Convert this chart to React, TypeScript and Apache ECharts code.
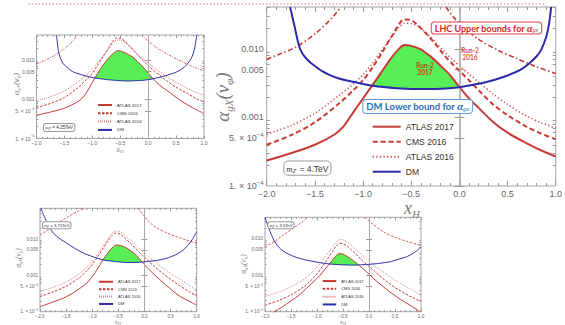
import React, { useEffect, useRef } from 'react';
import * as echarts from 'echarts';

// ---------------- data ----------------
const xTickValues = [-2, -1.5, -1, -0.5, 0, 0.5, 1];
const yTickValues = [1e-4, 5e-4, 1e-3, 5e-3, 1e-2];
const yTickLabels = ['1. × 10^−4', '5. × 10^−4', '0.001', '0.005', '0.010'];
const yMinorValues = [2e-4, 3e-4, 4e-4, 6e-4, 7e-4, 8e-4, 9e-4, 2e-3, 3e-3, 4e-3, 6e-3, 7e-3, 8e-3, 9e-3, 2e-2, 3e-2, 4e-2, 5e-2, 6e-2];
const legendNames = ['ATLAS 2017', 'CMS 2016', 'ATLAS 2016', 'DM'];
const massLabels = { m: '4.', tl: '4.25', bl: '3.75', br: '3.5' };
const yMaxValues = { m: 0.041, tl: 0.0427, bl: 0.07, br: 0.0389 };

// main panel, m_Z' = 4 TeV
const atlas17_m = [[-2.0, 2.35e-4], [-1.75, 3.0e-4], [-1.5, 4.0e-4], [-1.3, 5.6e-4], [-1.2, 7.5e-4], [-1.1, 1.2e-3], [-1.0, 1.9e-3], [-0.9, 3.0e-3], [-0.8, 4.8e-3], [-0.7, 7.6e-3], [-0.62, 0.0103], [-0.57, 0.0114], [-0.5, 0.0111], [-0.4, 0.0099], [-0.3, 0.0078], [-0.2, 0.0058], [-0.1, 0.0042], [0.0, 0.0028], [0.1, 0.0019], [0.2, 0.00138], [0.35, 8.6e-4], [0.5, 6.0e-4], [0.7, 4.2e-4], [0.85, 3.3e-4], [1.0, 2.7e-4]];
const cms16_m = [[-2.0, 4.0e-4], [-1.75, 5.5e-4], [-1.5, 8.5e-4], [-1.25, 1.6e-3], [-1.1, 2.5e-3], [-1.0, 3.5e-3], [-0.9, 5.4e-3], [-0.8, 9.0e-3], [-0.7, 0.0155], [-0.63, 0.0225], [-0.58, 0.027], [-0.52, 0.0268], [-0.45, 0.0235], [-0.34, 0.0165], [-0.25, 0.0118], [-0.16, 0.0082], [-0.08, 0.0062], [0.0, 0.0048], [0.1, 0.0035], [0.2, 0.0025], [0.35, 0.00155], [0.5, 1.08e-3], [0.7, 7.3e-4], [0.85, 5.8e-4], [1.0, 4.8e-4]];
const atlas16_m = [[-2.0, 5.7e-4], [-1.75, 7.6e-4], [-1.5, 1.15e-3], [-1.25, 2.1e-3], [-1.1, 3.1e-3], [-1.0, 4.2e-3], [-0.9, 6.2e-3], [-0.8, 9.8e-3], [-0.7, 0.0152], [-0.63, 0.0205], [-0.57, 0.0238], [-0.5, 0.0236], [-0.42, 0.021], [-0.34, 0.0168], [-0.25, 0.0127], [-0.16, 0.0092], [-0.08, 0.0072], [0.0, 0.0057], [0.1, 0.0043], [0.2, 0.0033], [0.35, 0.0022], [0.5, 1.55e-3], [0.7, 1.05e-3], [0.85, 8.4e-4], [1.0, 7.0e-4]];
const dm_m = [[-1.757, 0.041], [-1.735, 0.030], [-1.71, 0.0212], [-1.677, 0.013], [-1.65, 0.0098], [-1.608, 0.0078], [-1.55, 0.0064], [-1.49, 0.0055], [-1.42, 0.0047], [-1.35, 0.0042], [-1.25, 0.0037], [-1.144, 0.0034], [-0.9, 0.0029], [-0.65, 0.00268], [-0.35, 0.0026], [-0.1, 0.00268], [0.0, 0.00276], [0.2, 0.0031], [0.35, 0.0035], [0.5, 0.0041], [0.626, 0.0049], [0.72, 0.0061], [0.797, 0.0077], [0.85, 0.0098], [0.9, 0.0148], [0.925, 0.021], [0.94, 0.029], [0.952, 0.041]];
const branchL_m = [[-2.0, 0.0071], [-1.85, 0.0086], [-1.69, 0.0108], [-1.49, 0.017], [-1.31, 0.0297], [-1.23, 0.041]];
const branchR_m = [[-0.14, 0.041], [-0.05, 0.028], [0.05, 0.0205], [0.2, 0.0138], [0.4, 0.0096], [0.6, 0.0072], [0.8, 0.0055], [1.0, 0.0044]];

// top-left panel, m_Z' = 4.25 TeV
const atlas17_tl = [[-2.0, 3.9e-4], [-1.75, 4.7e-4], [-1.5, 5.9e-4], [-1.3, 8.0e-4], [-1.2, 1.0e-3], [-1.1, 1.5e-3], [-1.0, 2.7e-3], [-0.9, 4.6e-3], [-0.8, 7.6e-3], [-0.7, 0.0115], [-0.6, 0.0155], [-0.54, 0.0172], [-0.45, 0.0158], [-0.35, 0.0135], [-0.27, 0.0116], [-0.18, 0.0088], [-0.09, 0.0065], [0.0, 0.0046], [0.09, 0.0033], [0.2, 0.0023], [0.33, 0.00168], [0.45, 0.00126], [0.6, 8.8e-4], [0.8, 6.0e-4], [1.0, 4.3e-4]];
const cms16_tl = [[-2.0, 6.1e-4], [-1.75, 7.8e-4], [-1.5, 1.1e-3], [-1.25, 2.0e-3], [-1.1, 3.2e-3], [-1.0, 4.6e-3], [-0.9, 7.5e-3], [-0.8, 0.0125], [-0.7, 0.021], [-0.63, 0.030], [-0.57, 0.036], [-0.5, 0.035], [-0.42, 0.030], [-0.34, 0.023], [-0.25, 0.0165], [-0.16, 0.012], [-0.08, 0.0092], [0.0, 0.0072], [0.1, 0.0054], [0.2, 0.0041], [0.35, 0.0028], [0.5, 0.002], [0.7, 0.0014], [0.85, 0.00105], [1.0, 8.5e-4]];
const atlas16_tl = [[-2.0, 9.0e-4], [-1.75, 1.15e-3], [-1.5, 1.6e-3], [-1.25, 2.8e-3], [-1.1, 4.2e-3], [-1.0, 5.8e-3], [-0.9, 8.6e-3], [-0.8, 0.013], [-0.7, 0.020], [-0.63, 0.027], [-0.57, 0.032], [-0.5, 0.0315], [-0.42, 0.028], [-0.34, 0.0225], [-0.25, 0.017], [-0.16, 0.0128], [-0.08, 0.0102], [0.0, 0.0082], [0.1, 0.0064], [0.2, 0.005], [0.35, 0.0036], [0.5, 0.0027], [0.7, 0.0019], [0.85, 0.0015], [1.0, 1.25e-3]];
const dm_tl = [[-1.645, 0.043], [-1.63, 0.030], [-1.61, 0.0172], [-1.57, 0.0108], [-1.52, 0.0079], [-1.43, 0.006], [-1.34, 0.0049], [-1.15, 0.004], [-0.98, 0.0035], [-0.7, 0.0031], [-0.385, 0.0029], [-0.1, 0.003], [0.09, 0.0033], [0.3, 0.0039], [0.51, 0.0049], [0.65, 0.0066], [0.75, 0.0096], [0.8, 0.0135], [0.84, 0.022], [0.87, 0.043]];
const branchL_tl = [[-2.0, 0.0079], [-1.8, 0.0105], [-1.6, 0.0152], [-1.45, 0.022], [-1.34, 0.031], [-1.27, 0.043]];
const branchR_tl = [[-0.12, 0.043], [0.0, 0.030], [0.15, 0.0205], [0.35, 0.0138], [0.55, 0.0098], [0.75, 0.0072], [1.0, 0.0052]];

// bottom-left panel, m_Z' = 3.75 TeV
const atlas17_bl = [[-2.0, 1.37e-4], [-1.75, 1.85e-4], [-1.49, 2.6e-4], [-1.3, 3.8e-4], [-1.106, 6.1e-4], [-1.0, 9.2e-4], [-0.914, 1.4e-3], [-0.8, 2.6e-3], [-0.72, 3.8e-3], [-0.66, 4.9e-3], [-0.6, 6.1e-3], [-0.545, 6.8e-3], [-0.45, 6.6e-3], [-0.34, 5.6e-3], [-0.25, 4.6e-3], [-0.149, 3.5e-3], [-0.055, 2.4e-3], [0.05, 1.65e-3], [0.15, 1.18e-3], [0.3, 7.5e-4], [0.5, 4.2e-4], [0.68, 2.65e-4], [0.85, 1.95e-4], [1.0, 1.53e-4]];
const cms16_bl = [[-2.0, 2.6e-4], [-1.75, 3.5e-4], [-1.5, 5.0e-4], [-1.25, 8.5e-4], [-1.1, 1.35e-3], [-1.0, 2.0e-3], [-0.9, 3.2e-3], [-0.8, 5.3e-3], [-0.7, 8.8e-3], [-0.62, 0.0125], [-0.56, 0.0145], [-0.5, 0.0142], [-0.42, 0.0122], [-0.34, 0.0095], [-0.25, 0.0072], [-0.16, 0.0053], [-0.08, 0.0041], [0.0, 0.0032], [0.1, 0.0023], [0.2, 0.0017], [0.35, 0.00113], [0.5, 7.8e-4], [0.7, 4.9e-4], [0.85, 3.6e-4], [1.0, 2.7e-4]];
const atlas16_bl = [[-2.0, 3.6e-4], [-1.75, 4.7e-4], [-1.5, 6.6e-4], [-1.25, 1.1e-3], [-1.1, 1.7e-3], [-1.0, 2.45e-3], [-0.9, 3.8e-3], [-0.8, 6.2e-3], [-0.7, 0.0102], [-0.62, 0.0145], [-0.56, 0.0167], [-0.5, 0.0164], [-0.42, 0.0143], [-0.34, 0.0115], [-0.25, 0.0088], [-0.16, 0.0066], [-0.08, 0.0052], [0.0, 0.0042], [0.1, 0.0031], [0.2, 0.0024], [0.35, 0.00162], [0.5, 1.15e-3], [0.7, 7.5e-4], [0.85, 5.4e-4], [1.0, 3.9e-4]];
const dm_bl = [[-1.98, 0.07], [-1.93, 0.045], [-1.87, 0.030], [-1.81, 0.0205], [-1.745, 0.0145], [-1.62, 0.0102], [-1.49, 0.0077], [-1.33, 0.0055], [-1.17, 0.0041], [-1.0, 0.0033], [-0.79, 0.00265], [-0.55, 0.0024], [-0.34, 0.00226], [-0.1, 0.00228], [0.04, 0.0024], [0.25, 0.0026], [0.425, 0.00295], [0.6, 0.0037], [0.744, 0.005], [0.85, 0.0072], [0.93, 0.0105], [1.0, 0.016]];
const branchL_bl = [[-2.0, 0.0129], [-1.8, 0.0195], [-1.617, 0.030], [-1.45, 0.042], [-1.3, 0.055], [-1.17, 0.07]];
const branchR_bl = [[-0.13, 0.07], [0.0, 0.042], [0.106, 0.028], [0.25, 0.0195], [0.425, 0.0148], [0.6, 0.0118], [0.8, 0.0094], [1.0, 0.0077]];

// bottom-right panel, m_Z' = 3.5 TeV
const atlas17_br = [[-2.0, 6.5e-5], [-1.81, 1.0e-4], [-1.52, 1.88e-4], [-1.35, 2.8e-4], [-1.2, 4.4e-4], [-1.06, 6.8e-4], [-0.94, 1.0e-3], [-0.85, 1.45e-3], [-0.76, 2.05e-3], [-0.68, 2.9e-3], [-0.62, 3.55e-3], [-0.58, 3.9e-3], [-0.53, 3.9e-3], [-0.45, 3.5e-3], [-0.365, 2.9e-3], [-0.29, 2.45e-3], [-0.205, 1.95e-3], [-0.1, 1.45e-3], [0.0, 1.08e-3], [0.083, 8.2e-4], [0.25, 5.2e-4], [0.4, 3.5e-4], [0.6, 2.2e-4], [0.79, 1.5e-4], [0.98, 1.0e-4], [1.0, 9.6e-5]];
const cms16_br = [[-2.0, 1.5e-4], [-1.75, 2.0e-4], [-1.5, 2.9e-4], [-1.25, 4.9e-4], [-1.1, 7.6e-4], [-1.0, 1.1e-3], [-0.9, 1.7e-3], [-0.8, 2.8e-3], [-0.7, 4.6e-3], [-0.63, 6.3e-3], [-0.57, 7.5e-3], [-0.5, 7.3e-3], [-0.42, 6.3e-3], [-0.34, 5.0e-3], [-0.25, 3.8e-3], [-0.16, 2.8e-3], [-0.08, 2.2e-3], [0.0, 1.75e-3], [0.1, 1.3e-3], [0.2, 9.8e-4], [0.35, 6.6e-4], [0.5, 4.6e-4], [0.7, 3.1e-4], [0.85, 2.4e-4], [1.0, 1.9e-4]];
const atlas16_br = [[-2.0, 2.6e-4], [-1.75, 3.4e-4], [-1.5, 4.8e-4], [-1.25, 7.8e-4], [-1.1, 1.2e-3], [-1.0, 1.65e-3], [-0.9, 2.5e-3], [-0.8, 3.9e-3], [-0.7, 6.1e-3], [-0.63, 8.2e-3], [-0.57, 9.6e-3], [-0.5, 9.4e-3], [-0.42, 8.2e-3], [-0.34, 6.6e-3], [-0.25, 5.1e-3], [-0.16, 3.9e-3], [-0.08, 3.1e-3], [0.0, 2.5e-3], [0.1, 1.9e-3], [0.2, 1.48e-3], [0.35, 1.02e-3], [0.5, 7.4e-4], [0.7, 5.0e-4], [0.85, 3.8e-4], [1.0, 2.9e-4]];
const dm_br = [[-2.0, 0.039], [-1.95, 0.024], [-1.9, 0.0156], [-1.84, 0.0098], [-1.775, 0.0068], [-1.68, 0.005], [-1.58, 0.004], [-1.4, 0.0031], [-1.2, 0.0026], [-0.95, 0.00222], [-0.75, 0.00203], [-0.5, 0.00193], [-0.3, 0.0019], [0.02, 0.002], [0.2, 0.00212], [0.4, 0.00234], [0.55, 0.0027], [0.72, 0.0032], [0.85, 0.004], [0.93, 0.0048], [1.0, 0.006]];
const branchL_br = [[-2.0, 0.006], [-1.8, 0.0088], [-1.65, 0.0126], [-1.45, 0.02], [-1.3, 0.028], [-1.19, 0.039]];
const branchR_br = [[-0.08, 0.039], [0.05, 0.027], [0.275, 0.0156], [0.5, 0.011], [0.75, 0.0083], [1.0, 0.0066]];

// ---------------- styles / layout ----------------
const RED = '#c93a36';
const DOTRED = '#d24a4a';
const BLUE = '#2c2cab';
const GREEN = '#58ee58';
const FRAME = '#a3a3a3';
const TICK = '#9a9a9a';
const LABEL = '#666666';
const TITLE = '#7a7a7a';
const SANS = 'Liberation Sans, Arial, sans-serif';
const SERIF = 'Liberation Serif, Times New Roman, serif';

const LAYOUT: any = {
  m: {
    grid: { left: 266.7, top: 7, width: 291.6, height: 179 },
    tickFont: 9, tickLen: 5, minorLen: 3, labelMargin: 3,
    yTitle: 19, ySub: 11, yTitlePos: [222, 97], xTitle: 18, xSub: 11, xTitlePos: [412, 208],
    lw: 2, dotW: 1.6, dash: [5, 3], dot: [1.2, 2.4], branch: [5, 2.5, 1.5, 2.5], vline: 1.6,
    legend: { left: 371.7, top: 121.7, itemWidth: 28, itemHeight: 10, itemGap: 5, font: 8.6, lw: 2 },
    box: { x: 284.3, y: 161.5, font: 8.5, sub: 6, pad: [2, 2, 1, 2], radius: 4 },
  },
  tl: {
    grid: { left: 36.5, top: 35, width: 167.5, height: 103.5 },
    tickFont: 5, tickLen: 3, minorLen: 1.6, labelMargin: 2,
    yTitle: 8.5, ySub: 5, yTitlePos: [15.5, 84], xTitle: 7.5, xSub: 4.8, xTitlePos: [120, 149],
    lw: 1, dotW: 1, dash: [2.5, 1.5], dot: [0.7, 1.3], branch: [2.5, 1.2, 0.8, 1.2], vline: 1,
    legend: { left: 97, top: 102.5, itemWidth: 14, itemHeight: 5, itemGap: 3.3, font: 4.4, lw: 1 },
    box: { x: 44, y: 124, font: 4.6, sub: 3.3, pad: [1, 1.2, 0.5, 1.2], radius: 2 },
  },
  bl: {
    grid: { left: 40, top: 208.3, width: 156.7, height: 103.4 },
    tickFont: 4.6, tickLen: 3, minorLen: 1.6, labelMargin: 2,
    yTitle: 7.5, ySub: 4.5, yTitlePos: [18, 258], xTitle: 6.5, xSub: 4.2, xTitlePos: [118, 321],
    lw: 1, dotW: 0.9, dash: [2.5, 1.5], dot: [0.7, 1.3], branch: [2.5, 1.5], vline: 1,
    legend: { left: 98, top: 279.5, itemWidth: 14, itemHeight: 4.5, itemGap: 2.9, font: 4, lw: 1 },
    box: { x: 43, y: 222.3, font: 4.2, sub: 3, pad: [0.7, 1, 0.3, 1], radius: 2 },
  },
  br: {
    grid: { left: 265, top: 217.3, width: 156, height: 94.4 },
    tickFont: 4.6, tickLen: 3, minorLen: 1.6, labelMargin: 2,
    yTitle: 7.5, ySub: 4.5, yTitlePos: [243, 264], xTitle: 6.5, xSub: 4.2, xTitlePos: [343, 321],
    lw: 1, dotW: 0.9, dash: [2.5, 1.5], dot: [0.7, 1.3], branch: [2.5, 1.5], vline: 1,
    legend: { left: 321.7, top: 278.8, itemWidth: 13.5, itemHeight: 4.5, itemGap: 3.3, font: 4, lw: 1 },
    box: { x: 268.3, y: 222.3, font: 4.2, sub: 3, pad: [0.7, 1, 0.3, 1], radius: 2 },
  },
};

const PANELS = [
  { id: 'm', atlas17: atlas17_m, cms16: cms16_m, atlas16: atlas16_m, dm: dm_m, bL: branchL_m, bR: branchR_m },
  { id: 'tl', atlas17: atlas17_tl, cms16: cms16_tl, atlas16: atlas16_tl, dm: dm_tl, bL: branchL_tl, bR: branchR_tl },
  { id: 'bl', atlas17: atlas17_bl, cms16: cms16_bl, atlas16: atlas16_bl, dm: dm_bl, bL: branchL_bl, bR: branchR_bl },
  { id: 'br', atlas17: atlas17_br, cms16: cms16_br, atlas16: atlas16_br, dm: dm_br, bL: branchL_br, bR: branchR_br },
];

// ---------------- helpers ----------------
const toLog = (arr: number[][]) => arr.map(([x, y]) => [x, Math.log10(y)]);

function valueAt(arr: number[][], x: number): number | null {
  if (x < arr[0][0] || x > arr[arr.length - 1][0]) return null;
  for (let i = 1; i < arr.length; i++) {
    if (x <= arr[i][0]) {
      const [x0, y0] = arr[i - 1];
      const [x1, y1] = arr[i];
      return y0 + ((x - x0) / (x1 - x0)) * (y1 - y0);
    }
  }
  return arr[arr.length - 1][1];
}

// region where the upper curve lies above the lower one (log space)
function regionBetween(upper: number[][], lower: number[][]): number[][] {
  const U = toLog(upper);
  const L = toLog(lower);
  const runs: number[][][] = [];
  let cur: number[][] = [];
  for (let k = 0; k <= 1500; k++) {
    const x = -2 + k * 0.002;
    const u = valueAt(U, x);
    const l = valueAt(L, x);
    if (u !== null && l !== null && u > l) cur.push([x, u, l]);
    else {
      if (cur.length) runs.push(cur);
      cur = [];
    }
  }
  if (cur.length) runs.push(cur);
  let best: number[][] = [];
  runs.forEach((r) => { if (r.length > best.length) best = r; });
  const top = best.map((p) => [p[0], p[1]]);
  const bottom = best.slice().reverse().map((p) => [p[0], p[2]]);
  return top.concat(bottom);
}

const fmtX = (v: number) => (v < 0 ? '−' : '') + Math.abs(v).toFixed(1);

function fmtY(v: number) {
  const i = yTickValues.findIndex((t) => Math.abs(Math.log10(t) - v) < 1e-6);
  if (i < 0) return '';
  const s = yTickLabels[i];
  if (s.includes('^')) {
    const [a, b] = s.split('^');
    return `{n|${a}}{sup|${b}}`;
  }
  return `{n|${s}}`;
}

function buildOption() {
  const grid: any[] = [];
  const xAxis: any[] = [];
  const yAxis: any[] = [];
  const series: any[] = [];
  const legend: any[] = [];
  const graphic: any[] = [];

  PANELS.forEach((p, gi) => {
    const L = LAYOUT[p.id];
    const yMax = Math.log10((yMaxValues as any)[p.id]);
    grid.push({ ...L.grid, show: true, borderColor: FRAME, borderWidth: 1, backgroundColor: 'transparent', containLabel: false });

    const tickStyle = { color: TICK, width: 1 };
    const xBase = {
      gridIndex: gi, type: 'value', min: -2, max: 1, interval: 0.5,
      axisLine: { show: false }, splitLine: { show: false },
      axisTick: { show: true, inside: true, length: L.tickLen, lineStyle: tickStyle },
      minorTick: { show: true, splitNumber: 5, length: L.minorLen, lineStyle: tickStyle },
    };
    const xi = xAxis.length;
    xAxis.push({
      ...xBase, position: 'bottom',
      axisLabel: { formatter: fmtX, fontSize: L.tickFont, color: LABEL, fontFamily: SANS, margin: L.labelMargin, customValues: xTickValues },
    });
    xAxis.push({ ...xBase, position: 'top', axisLabel: { show: false } });

    const majors = yTickValues.map((v) => Math.log10(v));
    const minors = yMinorValues.filter((v) => Math.log10(v) < yMax).map((v) => Math.log10(v));
    const yBase = { gridIndex: gi, type: 'value', min: -4, max: yMax, axisLine: { show: false }, splitLine: { show: false } };
    const yi = yAxis.length;
    yAxis.push({
      ...yBase, position: 'left',
      axisTick: { show: true, inside: true, length: L.tickLen, lineStyle: tickStyle, customValues: majors },
      axisLabel: {
        customValues: majors, formatter: fmtY, margin: L.labelMargin,
        rich: {
          n: { fontSize: L.tickFont, color: LABEL, fontFamily: SANS, lineHeight: L.tickFont * 1.5 },
          sup: { fontSize: L.tickFont * 0.68, color: LABEL, fontFamily: SANS, verticalAlign: 'top', lineHeight: L.tickFont * 0.8 },
        },
      },
    });
    yAxis.push({ ...yBase, position: 'right', axisTick: { show: true, inside: true, length: L.tickLen, lineStyle: tickStyle, customValues: majors }, axisLabel: { show: false } });
    yAxis.push({ ...yBase, position: 'left', axisTick: { show: true, inside: true, length: L.minorLen, lineStyle: tickStyle, customValues: minors }, axisLabel: { show: false } });
    yAxis.push({ ...yBase, position: 'right', axisTick: { show: true, inside: true, length: L.minorLen, lineStyle: tickStyle, customValues: minors }, axisLabel: { show: false } });

    // axis titles
    graphic.push({
      type: 'text', x: L.yTitlePos[0], y: L.yTitlePos[1], rotation: Math.PI / 2, z: 20, silent: true,
      style: {
        text: '{a|α}{s|gX}{a|(}{a|v}{s|φ}{a|)}',
        align: 'center', verticalAlign: 'middle', fill: TITLE,
        rich: {
          a: { fontSize: L.yTitle, fontStyle: 'italic', fontFamily: SERIF, fill: TITLE, lineHeight: L.yTitle * 1.3 },
          s: { fontSize: L.ySub, fontStyle: 'italic', fontFamily: SERIF, fill: TITLE, verticalAlign: 'bottom', lineHeight: L.ySub },
        },
      },
    });
    graphic.push({
      type: 'text', x: L.xTitlePos[0], y: L.xTitlePos[1], z: 20, silent: true,
      style: {
        text: '{x|x}{h|H}',
        align: 'center', verticalAlign: 'middle', fill: TITLE,
        rich: {
          x: { fontSize: L.xTitle, fontStyle: 'italic', fontFamily: SERIF, fill: TITLE, lineHeight: L.xTitle * 1.25 },
          h: { fontSize: L.xSub, fontStyle: 'italic', fontFamily: SERIF, fill: TITLE, verticalAlign: 'bottom', lineHeight: L.xSub },
        },
      },
    });

    // green allowed region
    const poly = regionBetween(p.atlas17, p.dm);
    series.push({
      type: 'custom', name: 'allowed|' + p.id, xAxisIndex: xi, yAxisIndex: yi, z: 1, silent: true,
      data: [[-0.5, -3]],
      renderItem: (_params: any, api: any) => ({
        type: 'polygon',
        shape: { points: poly.map((pt) => api.coord(pt)) },
        style: { fill: GREEN, stroke: GREEN, lineWidth: 0.3 },
      }),
    });

    const line = (name: string, data: number[][], color: string, width: number, type: any, z: number, smooth = 0.3) => ({
      type: 'line', name: name + '|' + p.id, data: toLog(data), xAxisIndex: xi, yAxisIndex: yi,
      symbol: 'none', smooth, clip: true, silent: true, z,
      lineStyle: { color, width, type }, itemStyle: { color },
    });

    series.push(line('branchL', p.bL, RED, L.lw * 0.8, L.branch, 2));
    series.push(line('branchR', p.bR, RED, L.lw * 0.8, L.branch, 2));
    series.push(line('ATLAS 2016', p.atlas16, DOTRED, L.dotW, L.dot, 3));
    series.push(line('CMS 2016', p.cms16, RED, L.lw, L.dash, 3));
    const dmSeries: any = line('DM', p.dm, BLUE, L.lw, 'solid', 5, 0.2);
    dmSeries.markLine = {
      silent: true, symbol: ['none', 'none'], label: { show: false }, animation: false,
      lineStyle: { color: '#a8a8a8', width: L.vline, type: 'solid' },
      data: [{ xAxis: 0 }],
    };
    series.push(line('ATLAS 2017', p.atlas17, RED, L.lw, 'solid', 4));
    series.push(dmSeries);

    const lg = L.legend;
    legend.push({
      orient: 'vertical', left: lg.left, top: lg.top, padding: 0,
      itemWidth: lg.itemWidth, itemHeight: lg.itemHeight, itemGap: lg.itemGap,
      selectedMode: false,
      itemStyle: { opacity: 0, borderWidth: 0 },
      data: legendNames.map((n) => n + '|' + p.id),
      formatter: (n: string) => n.split('|')[0],
      textStyle: { fontSize: lg.font, color: '#333', fontFamily: SANS, lineHeight: lg.itemHeight },
    });

    const b = L.box;
    graphic.push({
      type: 'text', x: b.x, y: b.y, z: 20,
      style: {
        text: `{i|m}{s|Z′}{t| = ${(massLabels as any)[p.id]}TeV}`,
        rich: {
          i: { fontSize: b.font, fontStyle: 'italic', fontFamily: SERIF, fill: '#333', lineHeight: b.font * 1.2 },
          s: { fontSize: b.sub, fontStyle: 'italic', fontFamily: SERIF, fill: '#333', verticalAlign: 'bottom', lineHeight: b.sub },
          t: { fontSize: b.font, fontFamily: SANS, fill: '#333', lineHeight: b.font * 1.2 },
        },
        fill: '#333', backgroundColor: '#ffffff', borderColor: '#9a9a9a', borderWidth: 1,
        borderRadius: b.radius, padding: b.pad,
      },
    });
  });

  // annotations in the main panel
  graphic.push({
    type: 'text', x: 431.7, y: 22.5, z: 20,
    style: {
      text: '{t|LHC Upper bounds for }{a|α}{s|gx}',
      rich: {
        t: { fontSize: 9, fontWeight: 'bold', fontFamily: 'Lato, sans-serif', fill: '#e02424', lineHeight: 10 },
        a: { fontSize: 10, fontWeight: 'bold', fontStyle: 'italic', fontFamily: SERIF, fill: '#e02424', lineHeight: 10 },
        s: { fontSize: 6, fontStyle: 'italic', fontFamily: SERIF, fill: '#e02424', verticalAlign: 'bottom', lineHeight: 6 },
      },
      fill: '#e02424', backgroundColor: '#ffffff', borderColor: '#e04040', borderWidth: 1, borderRadius: 3,
      padding: [0.5, 3, 0.5, 3],
    },
  });
  graphic.push({
    type: 'text', x: 363.3, y: 100, z: 20,
    style: {
      text: '{t|DM Lower bound for }{a|α}{s|gx}',
      rich: {
        t: { fontSize: 9.5, fontWeight: 'bold', fontFamily: 'Lato, sans-serif', fill: '#1f6fbf', lineHeight: 11 },
        a: { fontSize: 10.5, fontWeight: 'bold', fontStyle: 'italic', fontFamily: SERIF, fill: '#1f6fbf', lineHeight: 11 },
        s: { fontSize: 6.5, fontStyle: 'italic', fontFamily: SERIF, fill: '#1f6fbf', verticalAlign: 'bottom', lineHeight: 6.5 },
      },
      fill: '#1f6fbf', backgroundColor: '#ffffff', borderColor: '#5b9bd8', borderWidth: 1, borderRadius: 3,
      padding: [1, 3, 1, 3],
    },
  });
  graphic.push({
    type: 'text', x: 425, y: 61.5, z: 20,
    style: { text: 'Run-2\n2017', fontSize: 6.5, fontWeight: 'bold', fontFamily: 'Lato, sans-serif', fill: '#cf3a12', align: 'center', lineHeight: 7.5 },
  });
  graphic.push({
    type: 'text', x: 470, y: 46.5, z: 20,
    style: { text: 'Run-2\n2016', fontSize: 6.5, fontWeight: 'bold', fontFamily: 'Lato, sans-serif', fill: '#e04a4a', align: 'center', lineHeight: 7.5 },
  });
  graphic.push({
    type: 'line', z: 20, silent: true,
    shape: { x1: 28, y1: 4, x2: 545, y2: 4 },
    style: { stroke: '#e3a6a6', lineWidth: 1.5, lineDash: [1.5, 2] },
  });

  return {
    animation: false,
    backgroundColor: '#ffffff',
    textStyle: { fontFamily: SANS },
    grid, xAxis, yAxis, series, legend, graphic,
  };
}

export default function App() {
  const ref = useRef<HTMLDivElement>(null);
  useEffect(() => {
    if (!ref.current) return;
    const chart = echarts.init(ref.current, undefined, { renderer: 'svg' });
    chart.setOption(buildOption() as any);
    return () => chart.dispose();
  }, []);
  return (
    <div
      ref={ref}
      style={{ position: 'fixed', left: 0, top: 0, width: 565, height: 325, background: '#fff' }}
    />
  );
}
